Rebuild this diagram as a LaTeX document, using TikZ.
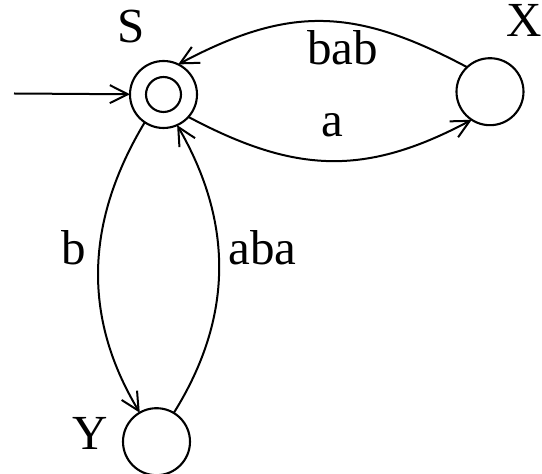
\documentclass[tikz,border=0pt]{standalone}
\usepackage{fontspec}
\setmainfont{Liberation Serif}
\usetikzlibrary{arrows.meta}
\begin{document}
\begin{tikzpicture}[x=1pt,y=1pt,
  state/.style={circle, draw, line width=2.1pt, minimum size=67pt, inner sep=0pt, outer sep=0pt},
  lbl/.style={font=\fontsize{49}{55}\selectfont, inner sep=0pt, anchor=base},
  edge/.style={line width=2pt, -{Straight Barb[length=18pt,width=18pt]}}]
\useasboundingbox (0,0) rectangle (542,474);
% states
\node[state] (S) at (163.5,379.5) {};
\draw[line width=2.1pt] (S.center) circle (17.5);
\node[state] (X) at (490,382.3) {};
\node[state] (Y) at (156.5,32.3) {};
% state names
\node[lbl] (lS) at (131.5,431) {S};
\node[lbl] (lX) at (524.5,437) {X};
\node[lbl] (lY) at (89.7,24) {Y};
% initial arrow
\coordinate (init) at (14,380.5);
\draw[edge] (init) -- (S);
% transitions
\draw[edge] (S.-42) to[out=-28, in=-152, looseness=1.09] (X.-123);
\draw[edge] (X.133) to[out=152, in=28, looseness=1.12] (S.64);
\draw[edge] (S.236) to[out=239, in=121, looseness=1.0] (Y.120);
\draw[edge] (Y.59) to[out=58, in=-60, looseness=1.0] (S.-66);
% edge labels
\node[lbl] (la) at (332.5,337) {a};
\node[lbl] (lbab) at (342.5,409) {bab};
\node[lbl] (lb) at (74,209) {b};
\node[lbl] (laba) at (262.5,209) {aba};
\end{tikzpicture}
\end{document}
